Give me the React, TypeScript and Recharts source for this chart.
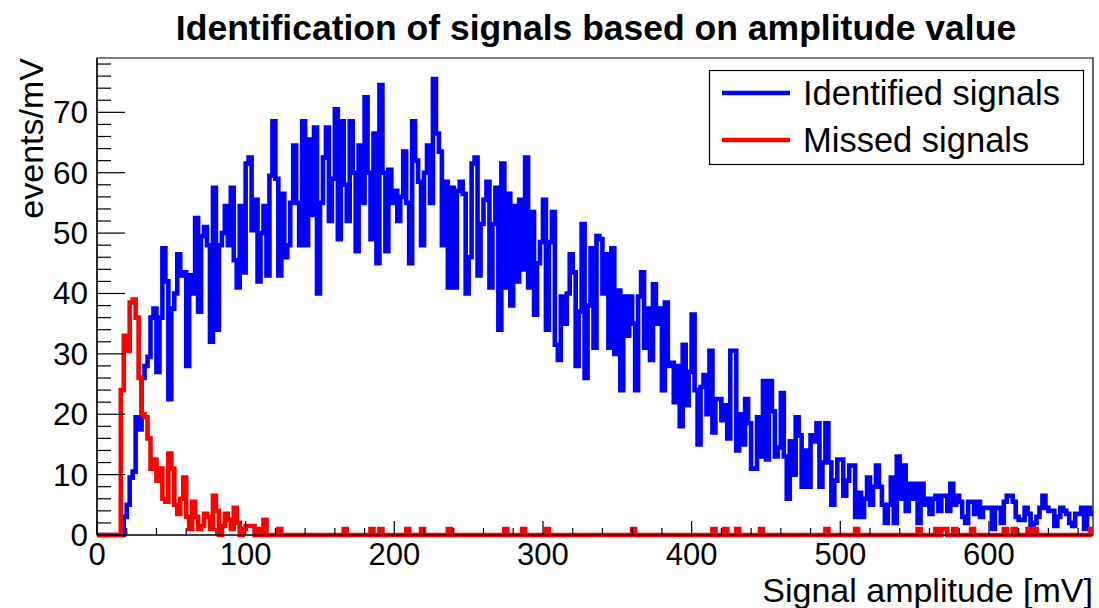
import { ComposedChart, Line, XAxis, YAxis, ReferenceArea } from "recharts";

// histogram binning (mV)
const BIN_WIDTH = 2;
const X_MAX = 670;
const Y_MAX = 79;

// events/mV per 2 mV bin
const identified = [
  0, 0, 0, 0, 0, 0, 0, 0, 0, 3,
  5, 9.5, 10.5, 19.5, 17.5, 26, 28, 29.5, 36, 37.5,
  27, 36, 47.5, 42, 22.5, 37.5, 40, 46.5, 43, 43.5,
  28, 43, 40, 52.5, 37, 49.5, 51, 48, 32, 57.5,
  34, 48, 50, 54.5, 48, 57.5, 45.5, 41, 54.5, 43.5,
  61.5, 62.5, 50.5, 55.5, 42, 50, 54.5, 43, 59.5, 68.5,
  59, 43, 56.5, 46, 48, 55, 64.5, 55, 48, 68.5,
  48, 65.5, 53, 67.5, 40, 55, 62.5, 67.5, 52, 59,
  70.5, 49, 68.5, 58, 52, 68.5, 60, 47, 64.5, 55,
  72.5, 60, 49, 66.5, 45, 74.5, 60, 47, 60.5, 55,
  57, 52, 56, 63.5, 55, 45, 68.5, 62, 58.5, 48,
  60, 64.5, 55, 75.5, 66.5, 63.5, 48, 58.5, 41, 57.5,
  41, 57, 58.5, 56.5, 40, 46, 61.5, 62.5, 43, 51.5,
  55.5, 58.5, 41, 51.5, 57.5, 34, 61.5, 41, 56.5, 38,
  54.5, 42, 55.5, 44, 62.5, 41, 53.5, 36.5, 45, 48.5,
  55.5, 34, 48.5, 53.5, 31.5, 29, 39.5, 35, 40, 46.5,
  43.5, 28, 37, 51.5, 26, 38, 47.5, 31, 49.5, 49,
  40, 46.5, 31, 47.5, 30, 40.5, 24, 39.5, 33, 39.5,
  35, 24, 39.5, 43.5, 31, 37.5, 29, 41.5, 35, 37.5,
  24, 38.5, 28, 28.5, 22, 28, 18, 31.5, 21.5, 27,
  36.5, 24, 15, 24.5, 26.5, 20, 30.5, 17, 22.5, 22.5,
  19, 21.5, 16, 30.5, 30.5, 14, 20, 15, 22.5, 18.5,
  11, 11, 19.5, 13, 25.5, 12.5, 25.5, 20.5, 13, 14.5,
  23.5, 13, 6, 15.5, 10, 19.5, 16.5, 8, 14, 8,
  16.5, 15.5, 18.5, 8, 12, 18.5, 12, 5, 9, 12.5,
  12.5, 6.5, 9, 11.5, 11.5, 3, 7, 3, 6, 9.5,
  5, 8, 11.5, 8, 5, 2, 5, 9.5, 2, 13,
  6, 11.5, 4, 8.5, 6, 8.5, 2, 8.5, 5, 6,
  3.5, 6, 6.5, 4, 6.5, 6.5, 4, 8.5, 5, 6.5,
  5.5, 3, 2, 5.5, 5.5, 3.5, 5.5, 3, 4.5, 4.5,
  4.5, 1, 4.5, 4.5, 2, 5.5, 6.5, 6.5, 5.5, 3,
  2.5, 2.5, 4.5, 3.5, 1, 2, 3, 4.5, 6.5, 4.5,
  4, 4, 1.5, 3, 4.5, 4, 3.5, 2, 1.5, 3.5,
  3.5, 4.5, 1, 4.5, 3.5,
];

// missed signals: first 60 bins, then isolated single-bin hits [bin, value]
const missedHead = [
  0, 0, 0, 0, 0, 0, 0, 0, 24, 33,
  30.5, 38.5, 39, 36, 26, 20, 19.5, 16, 11, 12.5,
  9, 11, 6, 5.5, 13.5, 11, 5, 3.5, 6, 9.5,
  3, 1, 5.5, 3, 1, 1.5, 3.5, 3, 1, 6.5,
  4, 0, 1.5, 3.5, 2.5, 1, 4.5, 2, 0, 1,
  1.5, 1.5, 1.5, 0, 1, 0, 2.5, 0, 0, 0,
];
const missedTail = [
  [61, 1], [83, 1], [92, 1], [95, 1], [104, 1], [109, 1], [118, 1],
  [137, 1], [143, 1], [151, 1], [180, 1], [207, 1], [211, 1], [215, 1],
  [223, 1], [245, 1], [255, 1], [276, 1], [282, 1], [284, 1], [285, 1],
  [288, 1], [294, 1], [305, 1], [308, 1], [313, 1], [315, 1], [334, 1],
];

const xTicks = [
  0, 20, 40, 60, 80, 100, 120, 140, 160, 180, 200, 220, 240, 260, 280, 300, 320,
  340, 360, 380, 400, 420, 440, 460, 480, 500, 520, 540, 560, 580, 600, 620, 640, 660,
];
const xLabels = [0, 100, 200, 300, 400, 500, 600];
const yTicks = [
  0, 2, 4, 6, 8, 10, 12, 14, 16, 18, 20, 22, 24, 26, 28, 30, 32, 34, 36, 38,
  40, 42, 44, 46, 48, 50, 52, 54, 56, 58, 60, 62, 64, 66, 68, 70, 72, 74, 76, 78,
];
const yLabels = [0, 10, 20, 30, 40, 50, 60, 70];

const missed = identified.map((_, i) => (i < missedHead.length ? missedHead[i] : 0));
missedTail.forEach(([bin, v]) => {
  missed[bin] = v;
});

const data = identified.map((v, i) => ({ x: i * BIN_WIDTH, identified: v, missed: missed[i] }));
// close the last bin
data.push({
  x: X_MAX,
  identified: identified[identified.length - 1],
  missed: missed[missed.length - 1],
});

const FONT = "'Liberation Sans', Arial, Helvetica, sans-serif";

function YTick(props: any) {
  const { x, y, payload } = props;
  const major = yLabels.includes(payload.value);
  return (
    <g>
      <line x1={x} x2={x + (major ? 28 : 14)} y1={y} y2={y} stroke="#000" strokeWidth={1.2} />
      {major && (
        <text x={x - 9} y={y + 11} textAnchor="end" fontSize={31.5} fontFamily={FONT} fill="#000">
          {payload.value}
        </text>
      )}
    </g>
  );
}

function XTick(props: any) {
  const { x, y, payload } = props;
  const major = xLabels.includes(payload.value);
  return (
    <g>
      <line x1={x} x2={x} y1={y} y2={y - (major ? 14 : 7)} stroke="#000" strokeWidth={1.2} />
      {major && (
        <text x={x} y={y + 30} textAnchor="middle" fontSize={31} fontFamily={FONT} fill="#000">
          {payload.value}
        </text>
      )}
    </g>
  );
}

export default function App() {
  return (
    <div style={{ position: "absolute", left: 0, top: 0, width: 1099, height: 608, background: "#fff" }}>
      <ComposedChart
        width={1099}
        height={608}
        data={data}
        margin={{ top: 58, right: 6, bottom: 0, left: 0 }}
      >
        <XAxis
          dataKey="x"
          type="number"
          domain={[0, X_MAX]}
          ticks={xTicks}
          interval={0}
          height={73}
          tickSize={0}
          tickMargin={0}
          tickLine={false}
          axisLine={{ stroke: "#000", strokeWidth: 1.2 }}
          tick={(p: any) => <XTick {...p} />}
        />
        <YAxis
          type="number"
          domain={[0, Y_MAX]}
          ticks={yTicks}
          interval={0}
          width={97}
          tickSize={0}
          tickMargin={0}
          tickLine={false}
          axisLine={{ stroke: "#000", strokeWidth: 1.2 }}
          tick={(p: any) => <YTick {...p} />}
        />
        <ReferenceArea x1={0} x2={X_MAX} y1={0} y2={Y_MAX} fill="none" stroke="#000" strokeWidth={1.2} />
        <Line
          dataKey="identified"
          type="stepAfter"
          stroke="#0000ff"
          strokeWidth={4.6}
          dot={false}
          isAnimationActive={false}
        />
        <Line
          dataKey="missed"
          type="stepAfter"
          stroke="#ff0000"
          strokeWidth={4.6}
          dot={false}
          isAnimationActive={false}
        />
      </ComposedChart>
      <svg
        width={1099}
        height={608}
        style={{ position: "absolute", left: 0, top: 0, pointerEvents: "none" }}
        fontFamily={FONT}
      >
        <text x={596} y={40} textAnchor="middle" fontSize={35.5} fontWeight="bold" fill="#000">
          Identification of signals based on amplitude value
        </text>
        <text
          x={0}
          y={0}
          transform="translate(43,58) rotate(-90)"
          textAnchor="end"
          fontSize={34}
          fill="#000"
        >
          events/mV
        </text>
        <text x={1093} y={602} textAnchor="end" fontSize={34} fill="#000">
          Signal amplitude [mV]
        </text>
        <rect x={709.5} y={70.5} width={374} height={94} fill="#fff" stroke="#000" strokeWidth={1.2} />
        <line x1={722} x2={790} y1={93} y2={93} stroke="#0000ff" strokeWidth={4.6} />
        <text x={803} y={105} fontSize={34.5} fill="#000">
          Identified signals
        </text>
        <line x1={722} x2={790} y1={140} y2={140} stroke="#ff0000" strokeWidth={4.6} />
        <text x={803} y={152} fontSize={34.5} fill="#000">
          Missed signals
        </text>
      </svg>
    </div>
  );
}
